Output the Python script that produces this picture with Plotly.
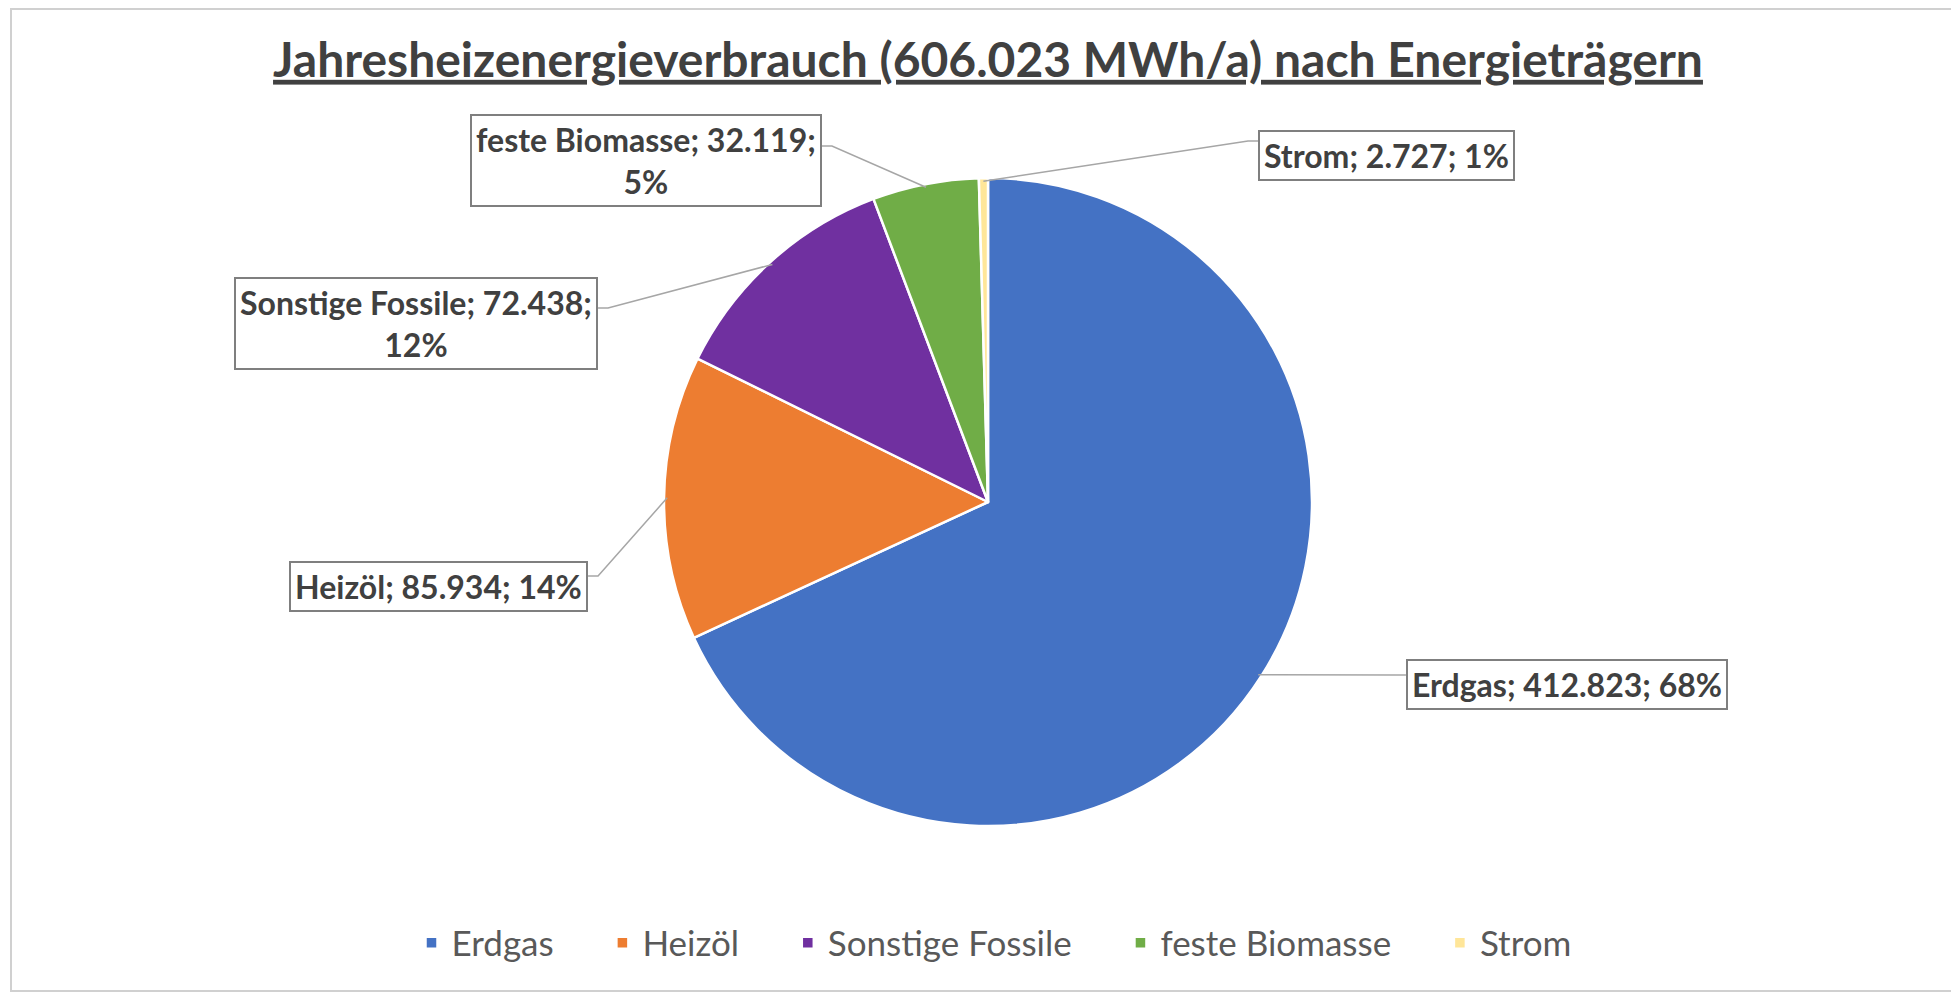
import math
import plotly.graph_objects as go

# data
labels = ["Erdgas", "Heizöl", "Sonstige Fossile", "feste Biomasse", "Strom"]
values = [412.823, 85.934, 72.438, 32.119, 2.727]
value_text = ["412.823", "85.934", "72.438", "32.119", "2.727"]
percents = [68, 14, 12, 5, 1]
colors = ["#4472C4", "#ED7D31", "#7030A0", "#70AD47", "#FFE699"]
title_text = "Jahresheizenergieverbrauch (606.023 MWh/a) nach Energieträgern"

W, H = 1959, 995
OFF = 8  # page body margin


def px(x, y):
    # screen pixel -> paper coords
    return (x - OFF) / W, 1 - (y - OFF) / H


cx, cy, rad = 988, 502, 324  # pie center / radius on screen

# label boxes: x, y (center), which side of box the line attaches to
box_pos = {
    "Erdgas": (1406, 684, "left"),
    "Heizöl": (588, 586, "right"),
    "Sonstige Fossile": (598, 324, "right"),
    "feste Biomasse": (822, 160, "right"),
    "Strom": (1258, 155, "left"),
}
line_y = {"Erdgas": 675, "Heizöl": 576, "Sonstige Fossile": 308,
          "feste Biomasse": 146, "Strom": 141}
two_line = {"Sonstige Fossile", "feste Biomasse"}

x0, y1 = px(cx - rad, cy - rad)
x1, y0 = px(cx + rad, cy + rad)

# extra space after each legend entry (excel spreads them wider)
legend_names = [l + "\u2003\u2002" for l in labels]

fig = go.Figure()
fig.add_trace(go.Pie(
    labels=legend_names,
    values=values,
    customdata=labels,
    sort=False,
    direction="clockwise",
    rotation=0,
    marker=dict(colors=colors, line=dict(color="white", width=2.5)),
    textinfo="none",
    hovertemplate="%{customdata}: %{value}<extra></extra>",
    domain=dict(x=[x0, x1], y=[y0, y1]),
))

total = sum(values)
cum = 0
shapes = []
annotations = []
for lab, v, vt, p in zip(labels, values, value_text, percents):
    mid = (cum + v / 2) / total * 2 * math.pi
    cum += v
    ex, ey = px(cx + rad * 0.99 * math.sin(mid), cy - rad * 0.99 * math.cos(mid))
    bx, by, side = box_pos[lab]
    ly = line_y[lab]
    sx, sy = px(bx, ly)
    tx, _ = px(bx + 10 if side == "right" else bx - 10, ly)
    path = "M {:.4f},{:.4f} L {:.4f},{:.4f} L {:.4f},{:.4f}".format(sx, sy, tx, sy, ex, ey)
    shapes.append(dict(type="path", xref="paper", yref="paper", path=path,
                       line=dict(color="#A6A6A6", width=1.5)))
    if lab in two_line:
        txt = "<b>{}; {};<br>{}%</b>".format(lab, vt, p)
    else:
        txt = "<b>{}; {}; {}%</b>".format(lab, vt, p)
    ax, ay = px(bx, by)
    annotations.append(dict(
        x=ax, y=ay, xref="paper", yref="paper",
        xanchor="left" if side == "left" else "right", yanchor="middle",
        text=txt, showarrow=False, align="center",
        font=dict(family="Lato", size=32, color="#404040"),
        bordercolor="#7F7F7F", borderwidth=2, borderpad=4,
        bgcolor="white",
    ))

# chart area border
bl, bb = px(11, 991)
shapes.append(dict(type="rect", xref="paper", yref="paper",
                   x0=bl, x1=1.01, y0=bb, y1=0.999,
                   line=dict(color="#D0D0D0", width=2), layer="below"))

tx_, ty_ = px(988, 60)
lx_, ly_ = px(1016, 943)
fig.update_layout(
    width=W, height=H,
    margin=dict(l=0, r=0, t=0, b=0),
    paper_bgcolor="white",
    title=dict(text="<b>" + title_text + "</b>", x=tx_, xanchor="center",
               y=ty_, yanchor="middle",
               font=dict(family="Lato", size=48, color="#404040", lineposition="under")),
    legend=dict(orientation="h", x=lx_, xanchor="center", y=ly_, yanchor="middle",
                font=dict(family="Lato", size=35, color="#595959"),
                traceorder="normal"),
    shapes=shapes,
    annotations=annotations,
)

fig.write_html("out.html")
